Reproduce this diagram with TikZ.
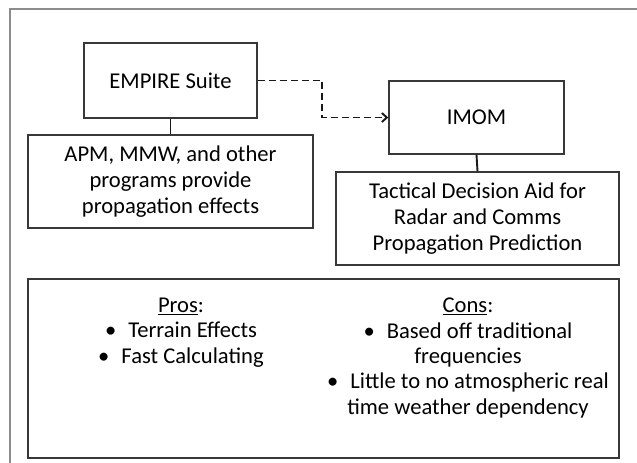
\documentclass[tikz,border=0pt]{standalone}
\usepackage{fontspec}
\setmainfont{Carlito}
\usetikzlibrary{arrows.meta,shadows}
\begin{document}
\begin{tikzpicture}[x=1pt,y=-1pt,
  box/.style={draw=black!78,line width=1.4pt,fill=white,align=center,inner sep=2pt,
     drop shadow={shadow xshift=1.4pt,shadow yshift=-1.4pt,fill=black,opacity=0.25},
     font=\fontsize{22.6}{25.8}\selectfont},
  link/.style={draw=black!90,line width=1.9pt},
  txt/.style={align=center,inner sep=0pt,font=\fontsize{22.6}{25.3}\selectfont},
  outerframe/.style={draw=black!45,line width=1.6pt}]
\useasboundingbox (0,0) rectangle (637,463);
\draw[outerframe] (10,463) -- (10,9) -- (637,9);

\node[box,minimum width=173pt,minimum height=75pt] (emp) at (170.5,80.5) {EMPIRE Suite};
\node[box,minimum width=285pt,minimum height=93pt] (apm) at (170.5,181.5)
  {APM, MMW, and other\\programs provide\\propagation effects};
\node[box,minimum width=175pt,minimum height=73pt] (imom) at (476.5,117.5) {IMOM};
\node[box,minimum width=283pt,minimum height=93pt] (tac) at (477.5,218.5)
  {Tactical Decision Aid for\\Radar and Comms\\Propagation Prediction};
\node[box,minimum width=591pt,minimum height=179pt] (pc) at (323.5,368.5) {};

\draw[link] (emp.south) -- (apm.north);
\draw[link] (imom.south) -- (tac.north);
\coordinate (bend) at (322,0);
\draw[link,dash pattern=on 7pt off 4pt,-{Straight Barb[length=5pt,width=9pt]}]
  (emp.east) -- (emp.east -| bend) |- (imom.west);

\node[txt,anchor=base] (pros) at (181,363)
  {\underline{Pros}:\\\textbullet\hspace{12pt}Terrain Effects\\\textbullet\hspace{12pt}Fast Calculating};
\node[txt,anchor=base] (cons) at (468,414)
  {\underline{Cons}:\\\textbullet\hspace{12pt}Based off traditional\\frequencies\\\textbullet\hspace{12pt}Little to no atmospheric real\\time weather dependency};
\end{tikzpicture}
\end{document}
